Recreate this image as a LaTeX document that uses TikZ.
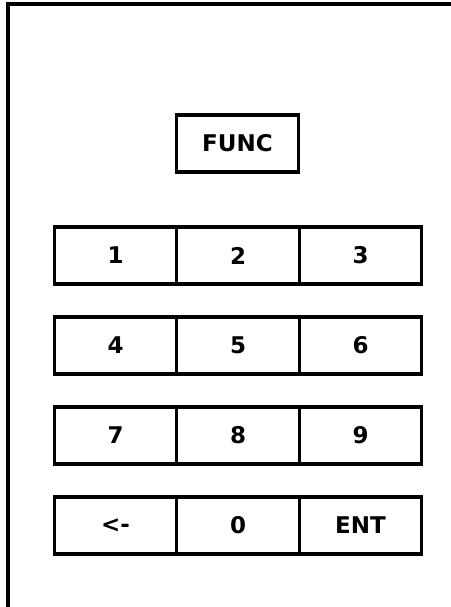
\documentclass[tikz,border=0pt]{standalone}
\usepackage{fontspec}
\setmainfont{DejaVu Sans}
\usetikzlibrary{positioning}
\tikzset{
    key/.style={rectangle, draw, line width=3.4pt, minimum width=122.5pt, minimum height=57pt, inner sep=0pt, font=\bfseries\fontsize{23}{23}\selectfont},
    frame line/.style={line width=3.6pt}
}

\begin{document}
\begin{tikzpicture}[x=1pt, y=-1pt]
    \useasboundingbox (0,0) rectangle (450,607);

    % Case outline, only top and left edges show
    \coordinate (C-bl) at (8,612);
    \coordinate (C-tl) at (8,4);
    \coordinate (C-tr) at (455,4);
    \draw[frame line] (C-bl) -- (C-tl) -- (C-tr);

    % Function key
    \node[key] (FUNC) at (237.5,143.5) {FUNC};

    % Number pad
    \foreach \lbl [count=\i from 0] in {1,2,3,4,5,6,7,8,9,<-,0,ENT} {
        \pgfmathtruncatemacro{\c}{mod(\i,3)}
        \pgfmathtruncatemacro{\r}{div(\i,3)}
        \node[key] (K-\r-\c) at ({115.5+122.5*\c},{255.5+90*\r}) {\lbl};
    }
\end{tikzpicture}
\end{document}
